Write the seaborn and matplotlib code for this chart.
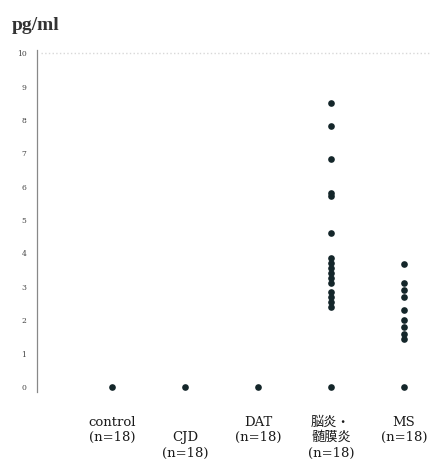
import numpy as np
import pandas as pd
import matplotlib
matplotlib.use('Agg')
import matplotlib.pyplot as plt
import seaborn as sns

#-----------------------
# Data
#-----------------------
groups = ['control', 'CJD', 'DAT', '脳炎・髄膜炎', 'MS']
group_labels = ['control\n(n=18)', '\nCJD\n(n=18)', 'DAT\n(n=18)',
                '脳炎・\n髄膜炎\n(n=18)', 'MS\n(n=18)']

control_vals = [0.0]
cjd_vals = [0.0]
dat_vals = [0.0]
enceph_vals = [8.51, 7.82, 6.82, 5.80, 5.72, 4.60,
               3.85, 3.70, 3.55, 3.40, 3.25, 3.10,
               2.85, 2.70, 2.55, 2.40, 0.0]
ms_vals = [3.68, 3.10, 2.90, 2.69, 2.31, 2.00, 1.80, 1.60, 1.45, 0.0]

# long-format dataframe for seaborn
df = pd.concat([
    pd.DataFrame({'group': g, 'value': v})
    for g, v in zip(groups, [control_vals, cjd_vals, dat_vals, enceph_vals, ms_vals])
], ignore_index=True)

#-----------------------
# Plot
#-----------------------
sns.set_style('white')
plt.rcParams['font.family'] = ['DejaVu Serif', 'Noto Sans CJK JP']

fig = plt.figure(figsize=(4.39, 4.70), dpi=100)
ax = fig.add_axes([0.084, 0.166, 0.896, 0.728])

sns.stripplot(data=df, x='group', y='value', order=groups, jitter=False,
              color='#14262a', size=4.8, linewidth=0, ax=ax)

# faint dotted line at the top of the scale
ax.axhline(10, xmin=0.01, xmax=1.0, color='#d8d8d8', linestyle=':', linewidth=1)

ax.set_ylim(-0.15, 10.1)
ax.set_xlim(-1.03, 4.36)
ax.set_yticks(range(0, 11))
ax.set_yticklabels([str(i) for i in range(0, 11)], fontsize=5.5, color='#444444')
ax.tick_params(axis='y', direction='inout', length=3, width=0.6, color='#888888', pad=6)

ax.set_xticks(range(len(groups)))
ax.set_xticklabels(group_labels, fontsize=9.5, color='#1a1a1a', linespacing=1.25,
                   va='top')
ax.tick_params(axis='x', length=0, pad=17)

ax.set_xlabel('')
ax.set_ylabel('')

for s in ['top', 'right', 'bottom']:
    ax.spines[s].set_visible(False)
ax.spines['left'].set_color('#888888')
ax.spines['left'].set_linewidth(0.9)

fig.text(0.027, 0.945, 'pg/ml', fontsize=14, fontweight='bold', color='#333333',
         va='center', ha='left', family=['Liberation Serif'])

fig.savefig('out.png', dpi=100)
